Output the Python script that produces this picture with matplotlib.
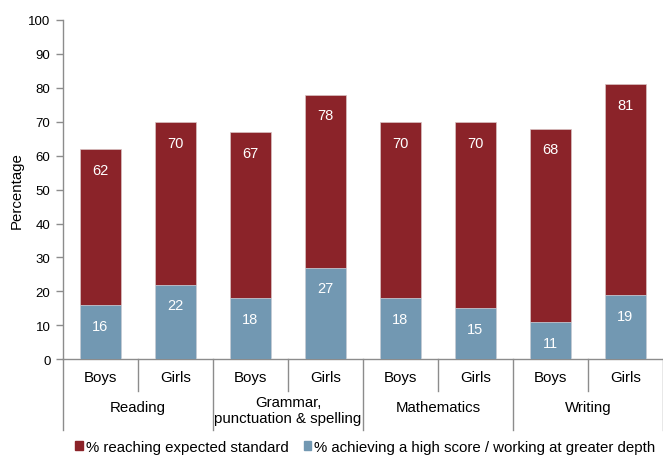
import matplotlib
matplotlib.use("Agg")

import matplotlib.pyplot as plt
from matplotlib.patches import Patch
import numpy as np

# chart data
subjects = ["Reading", "Grammar,\npunctuation & spelling", "Mathematics", "Writing"]
genders = ["Boys", "Girls"]
expected = [62, 70, 67, 78, 70, 70, 68, 81]
greater_depth = [16, 22, 18, 27, 18, 15, 11, 19]
legend_labels = ["% reaching expected standard",
                 "% achieving a high score / working at greater depth"]

red = "#8b2329"
blue = "#7298b2"
grey = "#8c8c8c"

plt.rcParams["font.family"] = ["Liberation Sans", "DejaVu Sans"]
plt.rcParams["font.size"] = 10.8

fig = plt.figure(figsize=(6.63, 4.56), dpi=100)
ax = fig.add_axes([0.095, 0.21, 0.905, 0.744])

x = np.arange(len(expected))
w = 0.55

ax.bar(x, expected, w, color=red, edgecolor="#d9c3c3", linewidth=0.5, zorder=2)
ax.bar(x, greater_depth, w, color=blue, edgecolor="#d0dbe3", linewidth=0.5, zorder=3)

# value labels just inside the top of each bar
for xi, v in zip(x, expected):
    ax.annotate(str(v), (xi, v), xytext=(0, -15), textcoords="offset points",
                ha="center", va="center", color="white", fontsize=10.5, zorder=4)
for xi, v in zip(x, greater_depth):
    ax.annotate(str(v), (xi, v), xytext=(0, -15), textcoords="offset points",
                ha="center", va="center", color="white", fontsize=10.5, zorder=4)

ax.set_xlim(-0.5, len(expected) - 0.5)
ax.set_ylim(0, 100)
ax.set_yticks(np.arange(0, 101, 10))
ax.set_xticks([])
ax.set_ylabel("Percentage", labelpad=3)

for s in ["top", "right"]:
    ax.spines[s].set_visible(False)
for s in ["left", "bottom"]:
    ax.spines[s].set_color(grey)
    ax.spines[s].set_linewidth(1)
ax.tick_params(axis="y", length=5, color=grey, width=1, pad=4, labelsize=9.5)

# two-level category axis
tr = ax.get_xaxis_transform()
for i in range(len(expected) + 1):
    edge = i - 0.5
    if i % 2 == 0:
        ax.plot([edge, edge], [0, -0.21], color=grey, lw=1, transform=tr, clip_on=False)
    else:
        ax.plot([edge, edge], [0, -0.095], color=grey, lw=1, transform=tr, clip_on=False)

for i, xi in enumerate(x):
    ax.text(xi, -0.052, genders[i % 2], transform=tr, ha="center", va="center")
for j, subj in enumerate(subjects):
    ax.text(2 * j + 0.5, -0.15 if "\n" in subj else -0.142, subj, transform=tr,
            ha="center", va="center", linespacing=1.15)

handles = [Patch(color=red), Patch(color=blue)]
fig.legend(handles, legend_labels, loc="center", bbox_to_anchor=(0.551, 0.018),
           ncol=2, frameon=False, handlelength=0.5, handleheight=0.5,
           handletextpad=0.2, columnspacing=1.0)

fig.savefig("out.png", dpi=100)
